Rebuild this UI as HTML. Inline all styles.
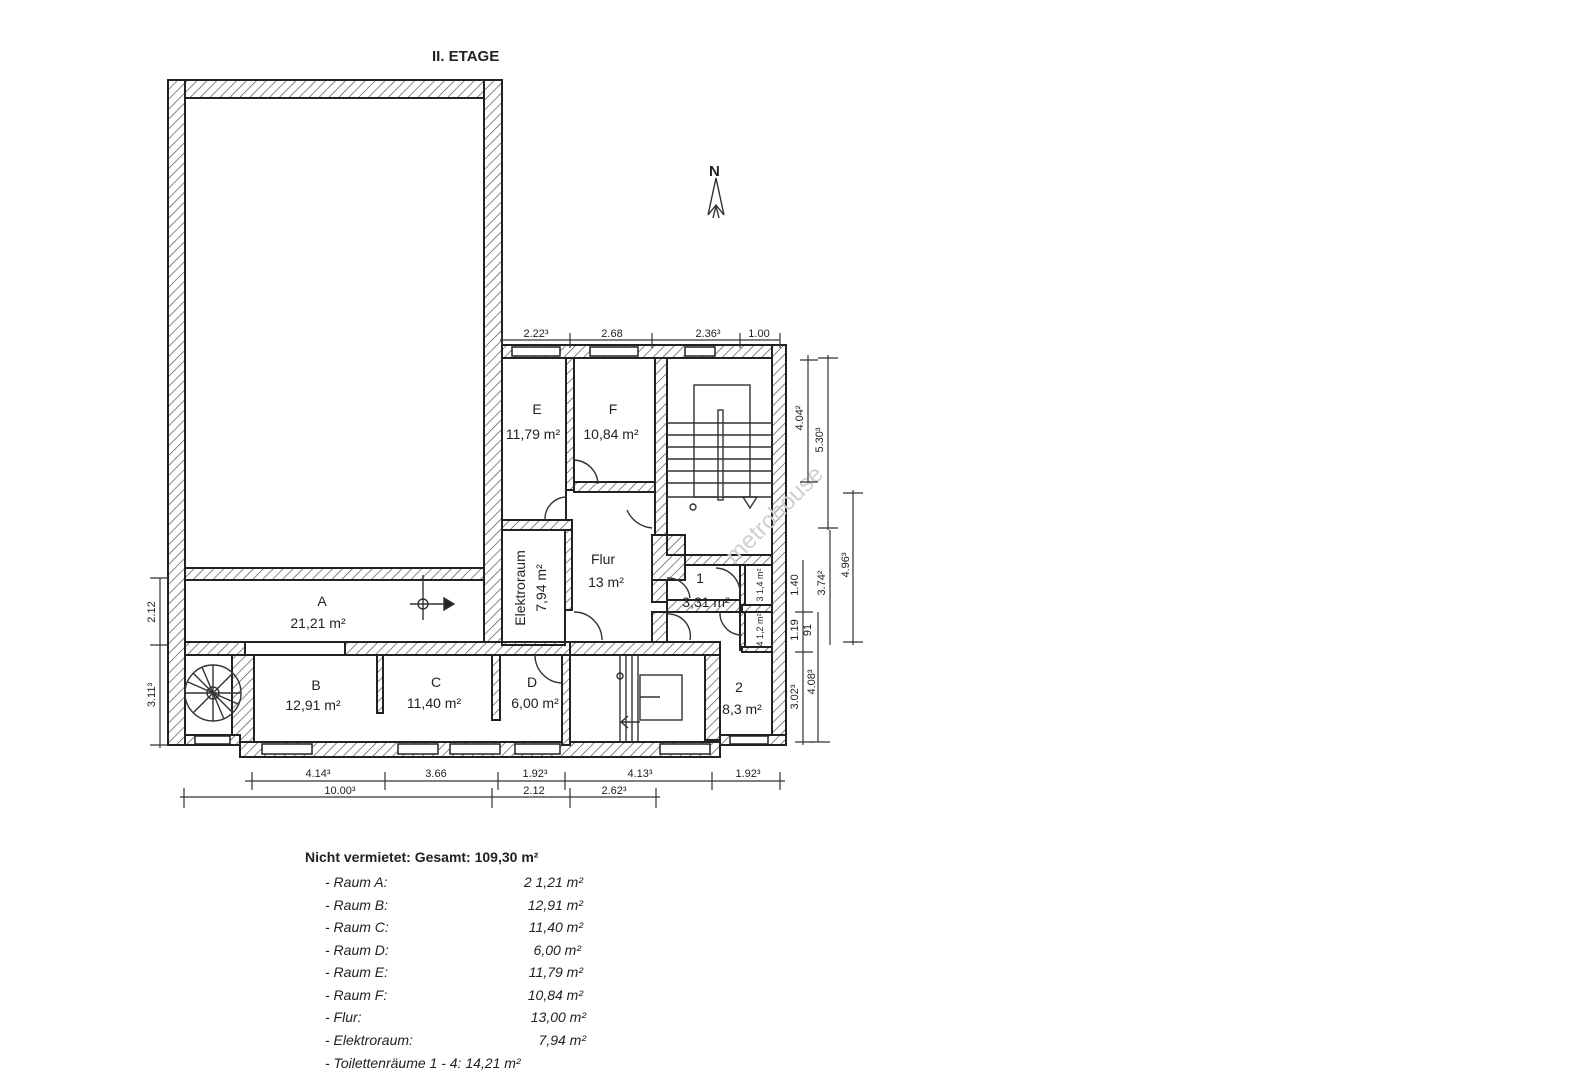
<!DOCTYPE html>
<html><head><meta charset="utf-8"><style>
html,body{margin:0;padding:0;background:#fff;width:1569px;height:1080px;overflow:hidden}
svg{display:block}
text{font-family:"Liberation Sans",sans-serif;fill:#222}
</style></head><body>
<svg width="1569" height="1080" viewBox="0 0 1569 1080" xmlns="http://www.w3.org/2000/svg">
<defs>
<pattern id="h" patternUnits="userSpaceOnUse" width="7" height="7" patternTransform="rotate(45)">
<rect width="7" height="7" fill="#fff"/><line x1="0" y1="0" x2="0" y2="7" stroke="#555" stroke-width="1.4"/>
</pattern>
</defs>
<text x="432" y="61" font-size="15" font-weight="bold" fill="#333">II. ETAGE</text>

<g stroke="#222" stroke-width="2" fill="url(#h)">
<!-- big room outline -->
<rect x="168" y="80" width="334" height="18"/>
<rect x="168" y="80" width="17" height="665"/>
<rect x="484" y="80" width="18" height="565"/>
<rect x="185" y="568" width="299" height="12"/>
<!-- east wing top and right -->
<rect x="502" y="345" width="283" height="13"/>
<rect x="772" y="345" width="14" height="400"/>
<!-- E/F -->
<rect x="566" y="358" width="8" height="132"/>
<rect x="574" y="482" width="81" height="10"/>
<rect x="655" y="358" width="12" height="177"/>
<rect x="502" y="520" width="70" height="10"/>
<rect x="565" y="530" width="7" height="80"/>
<!-- Flur right/stair block -->
<rect x="652" y="535" width="33" height="45"/>
<rect x="685" y="555" width="87" height="10"/>
<rect x="652" y="580" width="15" height="22"/>
<rect x="652" y="612" width="15" height="35"/>
<rect x="667" y="600" width="75" height="12"/>
<rect x="740" y="565" width="5" height="85"/>
<rect x="742" y="605" width="30" height="7"/>
<rect x="742" y="647" width="30" height="5"/>
<!-- lower walls -->
<rect x="185" y="642" width="60" height="13"/>
<rect x="345" y="642" width="225" height="13"/>
<rect x="570" y="642" width="150" height="13"/>
<rect x="232" y="655" width="22" height="90"/>
<rect x="705" y="655" width="15" height="85"/>
<rect x="240" y="742" width="480" height="15"/>
<rect x="720" y="735" width="66" height="10"/>
<rect x="377" y="655" width="6" height="58"/>
<rect x="492" y="655" width="8" height="65"/>
<rect x="562" y="655" width="8" height="90"/>
<rect x="185" y="735" width="55" height="10"/>
</g>
<!-- windows -->
<g fill="#fff" stroke="#222" stroke-width="1.5">
<rect x="512" y="347" width="48" height="9"/>
<rect x="590" y="347" width="48" height="9"/>
<rect x="685" y="347" width="30" height="9"/>
<rect x="262" y="744" width="50" height="10"/>
<rect x="398" y="744" width="40" height="10"/>
<rect x="450" y="744" width="50" height="10"/>
<rect x="515" y="744" width="45" height="10"/>
<rect x="660" y="744" width="50" height="10"/>
<rect x="195" y="736" width="35" height="8"/>
<rect x="730" y="736" width="38" height="8"/>
</g>
<!-- rooms inner outlines -->
<g fill="none" stroke="#222" stroke-width="2">
<rect x="185" y="98" width="299" height="470"/>
<rect x="185" y="580" width="299" height="62"/>
<rect x="502" y="358" width="64" height="162"/>
<rect x="574" y="358" width="81" height="124"/>
<rect x="502" y="530" width="63" height="115"/>
<rect x="667" y="358" width="105" height="197"/>
<rect x="254" y="655" width="308" height="87"/>
<rect x="570" y="655" width="135" height="87"/>
<rect x="185" y="655" width="47" height="80"/>
</g>
<!-- staircase upper -->
<g stroke="#333" stroke-width="1.4" fill="none">
<rect x="694" y="385" width="56" height="112"/>
<rect x="718" y="410" width="5" height="90" fill="#fff"/>
<line x1="667" y1="423" x2="772" y2="423"/><line x1="667" y1="435" x2="772" y2="435"/>
<line x1="667" y1="447" x2="772" y2="447"/><line x1="667" y1="459" x2="772" y2="459"/>
<line x1="667" y1="471" x2="772" y2="471"/><line x1="667" y1="483" x2="772" y2="483"/>
<line x1="667" y1="497" x2="772" y2="497"/>
<path d="M743 497 L750 508 L757 497 Z"/>
<circle cx="693" cy="507" r="3"/>
<!-- doors -->
<path d="M574 460 A25 25 0 0 1 598 484"/><path d="M545 520 A22 22 0 0 1 567 497"/>
<path d="M627 510 A30 30 0 0 0 652 528"/><path d="M574 612 A28 28 0 0 1 602 640"/>
<path d="M667 578 A22 22 0 0 1 690 598"/><path d="M716 568 A25 25 0 0 1 740 593"/>
<path d="M667 614 A22 22 0 0 1 690 640"/><path d="M720 612 A22 22 0 0 0 742 635"/>
<path d="M535 655 A28 28 0 0 0 562 683"/>
<!-- lower stair -->
<line x1="620" y1="655" x2="620" y2="742"/><line x1="626" y1="655" x2="626" y2="742"/>
<line x1="632" y1="655" x2="632" y2="742"/><line x1="638" y1="655" x2="638" y2="742"/>
<rect x="640" y="675" width="42" height="45"/>
<line x1="640" y1="697" x2="660" y2="697"/><circle cx="620" cy="676" r="3"/>
<path d="M640 722 L622 722 M628 716 L621 722 L628 728"/>
<!-- spiral -->
<circle cx="213" cy="693" r="28"/>
<line x1="185" y1="693" x2="241" y2="693"/><line x1="213" y1="665" x2="213" y2="721"/>
<line x1="193" y1="673" x2="233" y2="713"/><line x1="193" y1="713" x2="233" y2="673"/>
<line x1="202" y1="667" x2="224" y2="719"/><line x1="188" y1="682" x2="238" y2="704"/>
<circle cx="213" cy="693" r="6"/>
<!-- compass in A -->
<line x1="423" y1="575" x2="423" y2="620"/><line x1="410" y1="604" x2="452" y2="604"/>
<path d="M444 598 L454 604 L444 610 Z" fill="#222"/><circle cx="423" cy="604" r="5"/>
<!-- north arrow -->
<path d="M716 178 L708 215 M716 178 L724 215 M708 215 L716 205 L724 215 M713 218 L716 206 L719 218"/>
</g>
<text x="709" y="176" font-size="15" font-weight="bold" font-family="Liberation Serif">N</text>

<!-- labels -->
<g font-size="14" text-anchor="middle">
<text x="537" y="414">E</text><text x="533" y="439">11,79 m²</text>
<text x="613" y="414">F</text><text x="611" y="439">10,84 m²</text>
<text x="603" y="564">Flur</text><text x="606" y="587">13 m²</text>
<text x="322" y="606">A</text><text x="318" y="628">21,21 m²</text>
<text x="316" y="690">B</text><text x="313" y="710">12,91 m²</text>
<text x="436" y="687">C</text><text x="434" y="708">11,40 m²</text>
<text x="532" y="687">D</text><text x="535" y="708">6,00 m²</text>
<text x="739" y="692">2</text><text x="742" y="714">8,3 m²</text>
<text x="700" y="583">1</text><text x="706" y="607">3,31 m²</text>
<text transform="translate(525 588) rotate(-90)">Elektroraum</text>
<text transform="translate(546 588) rotate(-90)">7,94 m²</text>
</g>
<g font-size="9" text-anchor="middle">
<text transform="translate(763 585) rotate(-90)">3  1,4 m²</text>
<text transform="translate(763 630) rotate(-90)">4  1,2 m²</text>
</g>
<text transform="translate(735 565) rotate(-45)" font-size="24" fill="#ccc" style="fill:#d0d0d0">metrohouse</text>

<!-- dimension lines -->
<g stroke="#333" stroke-width="1.2" fill="none">
<line x1="500" y1="340" x2="780" y2="340"/>
<line x1="502" y1="333" x2="502" y2="348"/><line x1="570" y1="333" x2="570" y2="348"/>
<line x1="652" y1="333" x2="652" y2="348"/><line x1="740" y1="333" x2="740" y2="348"/><line x1="780" y1="333" x2="780" y2="348"/>
<line x1="245" y1="781" x2="785" y2="781"/>
<line x1="252" y1="772" x2="252" y2="790"/><line x1="385" y1="772" x2="385" y2="790"/>
<line x1="498" y1="772" x2="498" y2="790"/><line x1="565" y1="772" x2="565" y2="790"/>
<line x1="712" y1="772" x2="712" y2="790"/><line x1="780" y1="772" x2="780" y2="790"/>
<line x1="180" y1="797" x2="660" y2="797"/>
<line x1="184" y1="788" x2="184" y2="808"/><line x1="492" y1="788" x2="492" y2="808"/>
<line x1="570" y1="788" x2="570" y2="808"/><line x1="656" y1="788" x2="656" y2="808"/>
<line x1="160" y1="578" x2="160" y2="748"/>
<line x1="150" y1="578" x2="168" y2="578"/><line x1="150" y1="645" x2="168" y2="645"/><line x1="150" y1="745" x2="168" y2="745"/>
<line x1="808" y1="355" x2="808" y2="482"/><line x1="800" y1="360" x2="818" y2="360"/><line x1="800" y1="482" x2="818" y2="482"/>
<line x1="828" y1="355" x2="828" y2="530"/><line x1="818" y1="358" x2="838" y2="358"/><line x1="818" y1="528" x2="838" y2="528"/>
<line x1="853" y1="490" x2="853" y2="645"/><line x1="843" y1="493" x2="863" y2="493"/><line x1="843" y1="642" x2="863" y2="642"/>
<line x1="830" y1="530" x2="830" y2="645"/>
<line x1="803" y1="560" x2="803" y2="745"/><line x1="795" y1="612" x2="813" y2="612"/><line x1="795" y1="652" x2="813" y2="652"/><line x1="795" y1="742" x2="813" y2="742"/>
<line x1="818" y1="612" x2="818" y2="742"/><line x1="810" y1="742" x2="830" y2="742"/>
</g>
<g font-size="11" text-anchor="middle">
<text x="536" y="337">2.22³</text><text x="612" y="337">2.68</text>
<text x="708" y="337">2.36³</text><text x="759" y="337">1.00</text>
<text x="318" y="777">4.14³</text><text x="436" y="777">3.66</text>
<text x="535" y="777">1.92³</text><text x="640" y="777">4.13³</text><text x="748" y="777">1.92³</text>
<text x="340" y="794">10.00³</text><text x="534" y="794">2.12</text><text x="614" y="794">2.62³</text>
<text transform="translate(155 612) rotate(-90)">2.12</text>
<text transform="translate(155 695) rotate(-90)">3.11³</text>
<text transform="translate(803 418) rotate(-90)">4.04²</text>
<text transform="translate(823 440) rotate(-90)">5.30³</text>
<text transform="translate(849 565) rotate(-90)">4.96³</text>
<text transform="translate(825 583) rotate(-90)">3.74²</text>
<text transform="translate(798 585) rotate(-90)">1.40</text>
<text transform="translate(798 630) rotate(-90)">1.19</text>
<text transform="translate(811 630) rotate(-90)">91</text>
<text transform="translate(798 697) rotate(-90)">3.02³</text>
<text transform="translate(815 682) rotate(-90)">4.08³</text>
</g>

<!-- table -->
<text x="305" y="862" font-size="14" font-weight="bold" fill="#333">Nicht vermietet:  Gesamt: 109,30 m²</text>
<g font-size="14" font-style="italic" fill="#333">
<text x="325" y="887">- Raum A:</text><text x="583" y="887" text-anchor="end">2 1,21 m²</text>
<text x="325" y="910">- Raum B:</text><text x="583" y="910" text-anchor="end">12,91 m²</text>
<text x="325" y="932">- Raum C:</text><text x="583" y="932" text-anchor="end">11,40 m²</text>
<text x="325" y="955">- Raum D:</text><text x="581" y="955" text-anchor="end">6,00 m²</text>
<text x="325" y="977">- Raum E:</text><text x="583" y="977" text-anchor="end">11,79 m²</text>
<text x="325" y="1000">- Raum F:</text><text x="583" y="1000" text-anchor="end">10,84 m²</text>
<text x="325" y="1022">- Flur:</text><text x="586" y="1022" text-anchor="end">13,00 m²</text>
<text x="325" y="1045">- Elektroraum:</text><text x="586" y="1045" text-anchor="end">7,94 m²</text>
<text x="325" y="1068">- Toilettenräume 1 - 4: 14,21 m²</text>
</g>
</svg>
</body></html>
